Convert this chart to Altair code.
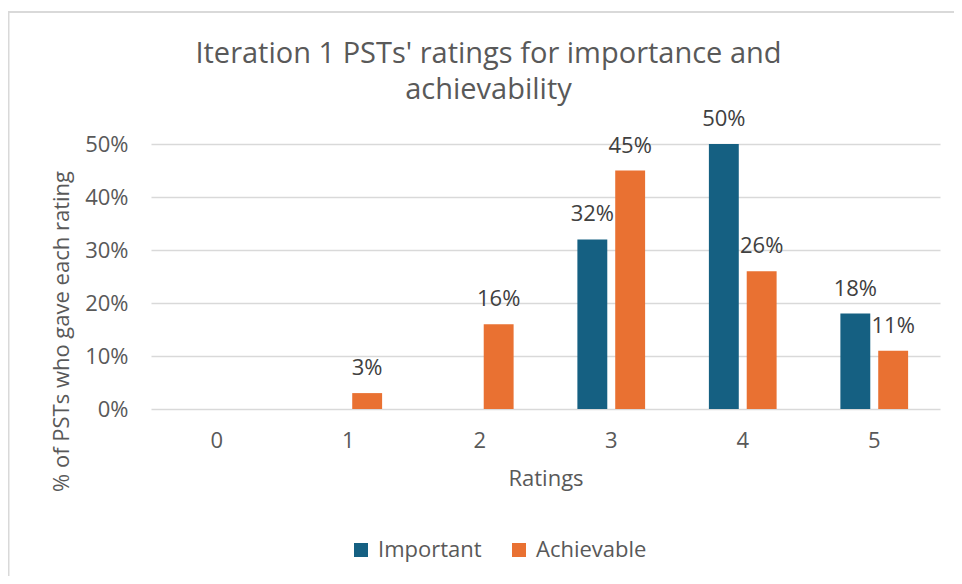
import altair as alt
import pandas as pd

# ---- data ----
ratings = ["0", "1", "2", "3", "4", "5"]
series = ["Important", "Achievable"]
important = [None, None, None, 0.32, 0.50, 0.18]
achievable = [None, 0.03, 0.16, 0.45, 0.26, 0.11]
colors = ["#156082", "#E97132"]
y_ticks = [0, 0.1, 0.2, 0.3, 0.4, 0.5]

rows = []
for name, vals in zip(series, [important, achievable]):
    for r, v in zip(ratings, vals):
        if v is not None:
            rows.append({"Rating": r, "Series": name, "Value": v})
df = pd.DataFrame(rows)

FONT = "Open Sans"
GREY = "#595959"

x_enc = alt.X(
    "Rating:N",
    scale=alt.Scale(domain=ratings, paddingInner=0.485, paddingOuter=0.2425),
    axis=alt.Axis(
        title="Ratings", labelAngle=0, domain=False, ticks=False,
        labelPadding=21, titlePadding=17,
        labelFont=FONT, titleFont=FONT, labelFontSize=22, titleFontSize=22,
        labelColor=GREY, titleColor=GREY, titleFontWeight="normal",
    ),
)
xo_enc = alt.XOffset(
    "Series:N", sort=series,
    scale=alt.Scale(domain=series, paddingInner=0.21, paddingOuter=0),
)
y_enc = alt.Y(
    "Value:Q",
    scale=alt.Scale(domain=[0, 0.5], nice=False),
    axis=alt.Axis(
        title="% of PSTs who gave each rating", format=".0%", values=y_ticks,
        domain=False, ticks=False, labelPadding=23,
        grid=True, gridColor="#d9d9d9", gridWidth=1.5,
        labelFont=FONT, titleFont=FONT, labelFontSize=22, titleFontSize=22,
        labelColor=GREY, titleColor=GREY, titleFontWeight="normal",
        titleAngle=270, titleAlign="center", titleBaseline="alphabetic",
        titleX=-83, titleY=187,
    ),
)

base = alt.Chart(df)

bars = base.mark_bar().encode(
    x=x_enc,
    xOffset=xo_enc,
    y=y_enc,
    color=alt.Color(
        "Series:N",
        scale=alt.Scale(domain=series, range=colors),
        legend=alt.Legend(
            title=None, orient="none", legendX=199, legendY=395,
            direction="horizontal", symbolType="square", symbolSize=196,
            symbolStrokeWidth=0, labelFont=FONT, labelFontSize=22,
            labelColor=GREY, labelOffset=6, columnPadding=26, padding=0,
        ),
    ),
)

labels = base.mark_text(
    baseline="alphabetic", dy=-18, font=FONT, fontSize=22, color="#404040"
).encode(
    x=x_enc,
    xOffset=xo_enc,
    y=y_enc,
    text=alt.Text("Value:Q", format=".0%"),
)

border = alt.Chart(pd.DataFrame({"a": [0]})).mark_rect(
    filled=False, stroke="#d9d9d9", strokeWidth=2
).encode(
    x=alt.value(-142.5), x2=alt.value(900),
    y=alt.value(-132), y2=alt.value(600),
)

chart = alt.layer(border, bars, labels).properties(
    width=789,
    height=265,
    padding={"left": 143, "top": 136, "right": 14, "bottom": 167},
    autosize=alt.AutoSizeParams(type="none"),
    title=alt.TitleParams(
        text=["Iteration 1 PSTs' ratings for importance and", "achievability"],
        font=FONT, fontSize=29, fontWeight="normal", color=GREY,
        anchor="middle", frame="group", dx=-57, lineHeight=36, offset=-94,
    ),
).configure_view(stroke=None)

chart.save("out.html", embed_options={"renderer": "svg", "actions": False})
